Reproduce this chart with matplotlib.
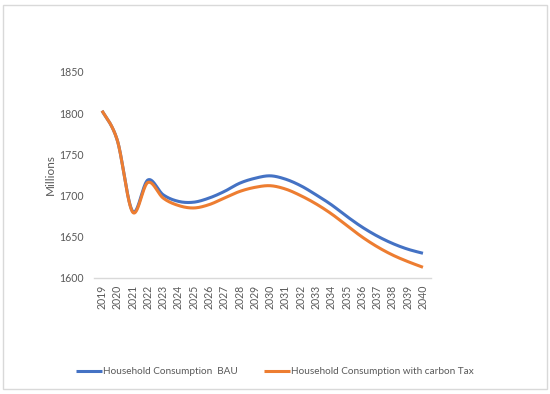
import matplotlib
matplotlib.use("Agg")
import matplotlib.pyplot as plt
from matplotlib.patches import Rectangle
import numpy as np

# ---------------------------------------------------------------------------
# Dados
# ---------------------------------------------------------------------------
anos = list(range(2019, 2041))
consumo_bau = [1803, 1767, 1681, 1719, 1701, 1693, 1692, 1697, 1705, 1715, 1721,
               1724, 1720, 1712, 1701, 1689, 1675, 1662, 1651, 1642, 1635, 1630]
consumo_taxa = [1803, 1767, 1680, 1716, 1697, 1688, 1685, 1689, 1697, 1705, 1710,
                1712, 1708, 1700, 1690, 1678, 1664, 1650, 1638, 1628, 1620, 1613]
y_ticks = [1600, 1650, 1700, 1750, 1800, 1850]

COR_BAU = "#4472C4"
COR_TAXA = "#ED7D31"
COR_TEXTO = "#595959"
COR_LINHA = "#D9D9D9"


def suavizar(x, y, n=30):
    """Curva suavizada estilo Excel (Bezier / Catmull-Rom) passando pelos pontos."""
    x = np.asarray(x, dtype=float)
    y = np.asarray(y, dtype=float)
    px = np.concatenate([[x[0]], x, [x[-1]]])
    py = np.concatenate([[y[0]], y, [y[-1]]])
    xs, ys = [], []
    t = np.linspace(0, 1, n, endpoint=False)
    for i in range(1, len(px) - 2):
        p0, p1, p2, p3 = (px[i - 1], py[i - 1]), (px[i], py[i]), (px[i + 1], py[i + 1]), (px[i + 2], py[i + 2])
        c1 = (p1[0] + (p2[0] - p0[0]) / 6, p1[1] + (p2[1] - p0[1]) / 6)
        c2 = (p2[0] - (p3[0] - p1[0]) / 6, p2[1] - (p3[1] - p1[1]) / 6)
        bx = ((1 - t) ** 3 * p1[0] + 3 * (1 - t) ** 2 * t * c1[0]
              + 3 * (1 - t) * t ** 2 * c2[0] + t ** 3 * p2[0])
        by = ((1 - t) ** 3 * p1[1] + 3 * (1 - t) ** 2 * t * c1[1]
              + 3 * (1 - t) * t ** 2 * c2[1] + t ** 3 * p2[1])
        xs.extend(bx)
        ys.extend(by)
    xs.append(x[-1])
    ys.append(y[-1])
    return np.array(xs), np.array(ys)


plt.rcParams["font.family"] = ["Lato", "DejaVu Sans"]

fig = plt.figure(figsize=(5.5, 3.94), dpi=100)
fig.patches.append(Rectangle((3 / 550, 1 - 389 / 394), 544 / 550, 384 / 394,
                             transform=fig.transFigure, fill=False,
                             edgecolor=COR_LINHA, linewidth=1))

ax = fig.add_axes([94.4 / 550, 1 - 278 / 394, 336.2 / 550, 206 / 394])

pos = np.arange(len(anos))
for serie, cor, rotulo in [
    (consumo_bau, COR_BAU, "Household Consumption  BAU"),
    (consumo_taxa, COR_TAXA, "Household Consumption with carbon Tax"),
]:
    xs, ys = suavizar(pos, serie)
    ax.plot(xs, ys, color=cor, linewidth=2.2, label=rotulo, solid_capstyle="butt")

ax.set_xlim(-0.5, len(anos) - 0.5)
ax.set_ylim(1600, 1850)
ax.set_xticks(pos)
ax.set_xticklabels([str(a) for a in anos], rotation=90)
ax.set_yticks(y_ticks)
ax.tick_params(axis="both", length=0, labelsize=7.6, labelcolor=COR_TEXTO)
ax.tick_params(axis="y", pad=8)
ax.tick_params(axis="x", pad=5)

for lado in ["top", "right", "left"]:
    ax.spines[lado].set_visible(False)
ax.spines["bottom"].set_color(COR_LINHA)
ax.spines["bottom"].set_linewidth(1)

ax.set_ylabel("Millions", fontsize=8.5, color=COR_TEXTO, labelpad=2)

fig.legend(loc="center", bbox_to_anchor=(0.5, 1 - 372 / 394), ncol=2,
           frameon=False, fontsize=7.2, handlelength=2.6, handletextpad=0.1,
           columnspacing=2.6, labelcolor=COR_TEXTO)

fig.savefig("out.png", dpi=100)
